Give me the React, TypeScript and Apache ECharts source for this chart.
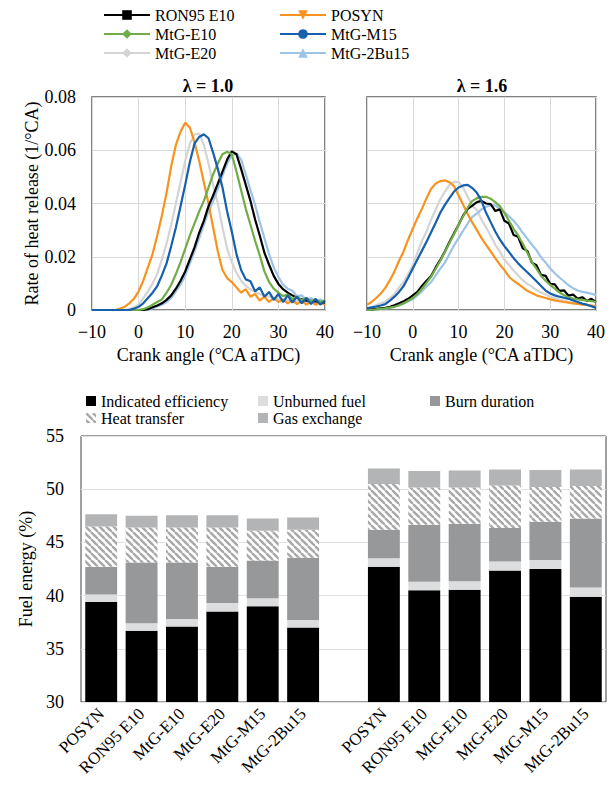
import React, { useEffect, useRef } from 'react';
import * as echarts from 'echarts';

// Crank angle grid (°CA aTDC)
const CA = Array.from({ length: 51 }, (_, i) => i - 10);

// Rate of heat release (1/°CA), lambda = 1.0
const RON95_L10 = [0,0,0,0,0,0,0,0,0,0, 0,0,0.0003,0.001,0.0017,0.0025,0.0038,0.0055,0.008,0.011, 0.0145,0.019,0.0235,0.029,0.0335,0.039,0.043,0.0475,0.052,0.0565, 0.0596,0.0585,0.053,0.047,0.041,0.034,0.028,0.0215,0.017,0.0128, 0.0098,0.0078,0.0065,0.0055,0.0045,0.004,0.0035,0.0034,0.0032,0.003, 0.0028];
const POSYN_L10 = [0,0,0,0,0,0,0.0005,0.0012,0.0025,0.0042, 0.007,0.011,0.016,0.021,0.028,0.0355,0.044,0.054,0.062,0.067, 0.0703,0.0685,0.063,0.056,0.048,0.04,0.031,0.022,0.015,0.012, 0.0105,0.0085,0.0065,0.0078,0.005,0.006,0.0035,0.005,0.003,0.0045, 0.003,0.004,0.0025,0.0038,0.0022,0.0035,0.002,0.0032,0.002,0.003, 0.002];
const E10_L10 = [0,0,0,0,0,0,0,0,0,0, 0,0.0003,0.001,0.002,0.003,0.004,0.0065,0.0095,0.0135,0.018, 0.023,0.028,0.0325,0.037,0.041,0.046,0.051,0.055,0.0585,0.0594, 0.0585,0.052,0.045,0.038,0.032,0.026,0.0205,0.0145,0.0105,0.008, 0.0065,0.0052,0.0058,0.0042,0.005,0.0036,0.0045,0.0033,0.004,0.003, 0.0035];
const M15_L10 = [0,0,0,0,0,0,0,0,0,0.0005, 0.0012,0.0025,0.0045,0.0065,0.009,0.013,0.0175,0.024,0.031,0.039, 0.047,0.0556,0.0625,0.065,0.066,0.0645,0.059,0.053,0.046,0.037, 0.0294,0.021,0.015,0.0115,0.0108,0.007,0.0085,0.005,0.0068,0.0038, 0.006,0.003,0.0055,0.0028,0.005,0.0025,0.0045,0.0022,0.0042,0.002, 0.0035];
const E20_L10 = [0,0,0,0,0,0,0,0,0.0003,0.001, 0.002,0.0045,0.007,0.01,0.0135,0.019,0.025,0.032,0.04,0.048, 0.056,0.0625,0.0658,0.0663,0.062,0.055,0.047,0.04,0.031,0.023, 0.018,0.014,0.011,0.009,0.0078,0.0068,0.006,0.0055,0.005,0.0046, 0.0042,0.004,0.0037,0.0035,0.0033,0.0031,0.003,0.0029,0.0028,0.0027, 0.0026];
const BU15_L10 = [0,0,0,0,0,0,0,0,0,0, 0,0,0.0002,0.0007,0.0013,0.002,0.003,0.0045,0.007,0.0095, 0.013,0.0175,0.022,0.027,0.032,0.037,0.041,0.0455,0.0505,0.055, 0.058,0.0588,0.0565,0.051,0.045,0.0395,0.033,0.027,0.021,0.016, 0.0125,0.0095,0.008,0.0072,0.0052,0.0055,0.0038,0.0045,0.003,0.004, 0.003];

// Rate of heat release (1/°CA), lambda = 1.6
const RON95_L16 = [0,0.0002,0.0004,0.0006,0.0008,0.0012,0.0018,0.0025,0.0033,0.0042, 0.0055,0.0068,0.009,0.011,0.0128,0.016,0.0188,0.022,0.0255,0.0288, 0.032,0.0355,0.038,0.0392,0.0405,0.041,0.04,0.0398,0.0372,0.0378, 0.0335,0.0325,0.0282,0.0275,0.0232,0.0222,0.0178,0.0168,0.0132,0.0128, 0.0098,0.0096,0.0072,0.0074,0.0054,0.0058,0.0042,0.0048,0.0034,0.0042, 0.003];
const POSYN_L16 = [0.002,0.003,0.0045,0.0062,0.0083,0.0112,0.0145,0.0185,0.022,0.0265, 0.0305,0.0345,0.038,0.042,0.0455,0.0475,0.0484,0.0487,0.048,0.0465, 0.043,0.0395,0.036,0.0328,0.03,0.027,0.0245,0.022,0.0195,0.017, 0.015,0.0125,0.011,0.0098,0.0085,0.0072,0.0064,0.0055,0.005,0.0045, 0.004,0.0036,0.0033,0.003,0.0028,0.0025,0.0023,0.0021,0.0019,0.0017, 0.0015];
const E10_L16 = [0,0.0001,0.0002,0.0004,0.0006,0.0009,0.0012,0.0018,0.0025,0.0035, 0.0045,0.006,0.008,0.0102,0.0125,0.0155,0.0185,0.0218,0.0252,0.0285, 0.032,0.0352,0.0385,0.041,0.042,0.0425,0.0425,0.0418,0.0405,0.039, 0.0365,0.0335,0.0305,0.028,0.025,0.0215,0.018,0.0155,0.0128,0.011, 0.0094,0.008,0.0066,0.0056,0.0047,0.0043,0.004,0.0038,0.0035,0.0033, 0.0031];
const M15_L16 = [0.0006,0.001,0.0013,0.0017,0.0022,0.0035,0.005,0.0068,0.009,0.0122, 0.0156,0.019,0.0223,0.0256,0.0292,0.0328,0.0365,0.0395,0.042,0.0445, 0.046,0.0468,0.047,0.0458,0.044,0.041,0.0365,0.033,0.0295,0.0265, 0.024,0.0218,0.0195,0.0175,0.0158,0.0142,0.0125,0.0108,0.009,0.0073, 0.0062,0.0055,0.005,0.0046,0.0042,0.0036,0.003,0.0024,0.002,0.0014, 0.0008];
const E20_L16 = [0.0006,0.001,0.0018,0.0025,0.0032,0.0045,0.006,0.0085,0.0105,0.0135, 0.0168,0.0215,0.026,0.0295,0.034,0.0378,0.0415,0.0445,0.047,0.0481, 0.048,0.046,0.0425,0.039,0.0375,0.034,0.031,0.028,0.0245,0.022, 0.019,0.017,0.0148,0.013,0.0112,0.0098,0.0088,0.0075,0.0066,0.0058, 0.005,0.0045,0.0039,0.0035,0.003,0.0026,0.0023,0.002,0.0018,0.0016, 0.0014];
const BU15_L16 = [0,0,0.0002,0.0004,0.0006,0.0009,0.0012,0.0018,0.0024,0.0032, 0.004,0.0055,0.007,0.0088,0.0105,0.013,0.0155,0.0178,0.021,0.0243, 0.027,0.0298,0.0325,0.035,0.0363,0.0378,0.0388,0.0393,0.0393,0.038, 0.0368,0.0352,0.0335,0.0315,0.029,0.0268,0.0245,0.0225,0.0198,0.0178, 0.0156,0.0138,0.0122,0.0108,0.0093,0.0082,0.0073,0.0068,0.0065,0.0061, 0.0056];

// Fuel energy breakdown (%)
const BAR_FUELS = ['POSYN', 'RON95 E10', 'MtG-E10', 'MtG-E20', 'MtG-M15', 'MtG-2Bu15'];
const IND_EFF_L10 = [39.4, 36.7, 37.1, 38.5, 39.0, 37.0];
const UNBURNED_L10 = [0.7, 0.7, 0.7, 0.8, 0.75, 0.7];
const BURN_L10 = [2.6, 5.7, 5.3, 3.4, 3.55, 5.85];
const HEAT_L10 = [3.8, 3.3, 3.3, 3.7, 2.8, 2.65];
const GAS_L10 = [1.15, 1.1, 1.15, 1.15, 1.15, 1.15];
const IND_EFF_L16 = [42.7, 40.5, 40.55, 42.35, 42.5, 39.9];
const UNBURNED_L16 = [0.8, 0.8, 0.8, 0.85, 0.85, 0.85];
const BURN_L16 = [2.7, 5.35, 5.4, 3.15, 3.6, 6.5];
const HEAT_L16 = [4.3, 3.5, 3.4, 4.0, 3.25, 3.05];
const GAS_L16 = [1.45, 1.55, 1.6, 1.5, 1.6, 1.55];

const FONT = 'Liberation Serif';

const LINE_SERIES = [
  { name: 'MtG-E20', color: '#D4D4D4', symbol: 'diamond', rotate: 0, l10: E20_L10, l16: E20_L16 },
  { name: 'MtG-2Bu15', color: '#9DC3E6', symbol: 'triangle', rotate: 0, l10: BU15_L10, l16: BU15_L16 },
  { name: 'POSYN', color: '#F7931E', symbol: 'triangle', rotate: 180, l10: POSYN_L10, l16: POSYN_L16 },
  { name: 'RON95 E10', color: '#000000', symbol: 'rect', rotate: 0, l10: RON95_L10, l16: RON95_L16 },
  { name: 'MtG-E10', color: '#70AD47', symbol: 'diamond', rotate: 0, l10: E10_L10, l16: E10_L16 },
  { name: 'MtG-M15', color: '#1760AB', symbol: 'circle', rotate: 0, l10: M15_L10, l16: M15_L16 },
];

export default function App() {
  const ref = useRef<HTMLDivElement>(null);
  useEffect(() => {
    document.body.style.margin = '0';
    if (!ref.current) return;
    const chart = echarts.init(ref.current, null, { renderer: 'svg' });

    const c = document.createElement('canvas');
    c.width = 7; c.height = 7;
    const ctx = c.getContext('2d')!;
    ctx.fillStyle = '#ffffff';
    ctx.fillRect(0, 0, 7, 7);
    ctx.strokeStyle = '#a8a8a8';
    ctx.lineWidth = 2.4;
    for (const o of [-7, 0, 7]) {
      ctx.beginPath(); ctx.moveTo(o, 0); ctx.lineTo(o + 7, 7); ctx.stroke();
    }
    const hatch = { image: c, repeat: 'repeat' };

    const cats = [...BAR_FUELS, '', ...BAR_FUELS];
    const join = (a: number[], b: number[]) => [...a, '-', ...b];

    const minus = (v: number) => (v < 0 ? '\u2212' + Math.abs(v) : String(v));
    const lineX = (gi: number) => ({
      type: 'value', gridIndex: gi, min: -10, max: 40, interval: 10,
      axisLine: { show: false }, axisTick: { show: false },
      splitLine: { show: true, lineStyle: { color: '#d9d9d9', width: 1 } },
      axisLabel: { fontSize: 18, fontFamily: FONT, color: '#000', margin: 13, formatter: minus },
      name: 'Crank angle (°CA aTDC)', nameLocation: 'middle', nameGap: 36,
      nameTextStyle: { fontSize: 18, fontFamily: FONT, color: '#000' },
    });
    const lineY = (gi: number, labels: boolean) => ({
      type: 'value', gridIndex: gi, min: 0, max: 0.08, interval: 0.02,
      axisLine: { show: false }, axisTick: { show: false },
      splitLine: { show: true, lineStyle: { color: '#d9d9d9', width: 1 } },
      axisLabel: { show: labels, fontSize: 18, fontFamily: FONT, color: '#000', margin: 16,
        formatter: (v: number) => (v === 0 ? '0' : v.toFixed(2)) },
      name: labels ? 'Rate of heat release (1/°CA)' : '', nameLocation: 'middle', nameGap: 48,
      nameTextStyle: { fontSize: 18, fontFamily: FONT, color: '#000' },
    });

    const lineSeries: any[] = [];
    LINE_SERIES.forEach((s) => {
      [s.l10, s.l16].forEach((vals, gi) => {
        lineSeries.push({
          type: 'line', name: s.name, xAxisIndex: gi, yAxisIndex: gi,
          data: CA.map((x, i) => [x, vals[i]]),
          showSymbol: false, symbol: s.symbol, symbolRotate: s.rotate, symbolSize: 9,
          lineStyle: { width: 2.2, color: s.color }, itemStyle: { color: s.color },
          silent: true,
        });
      });
    });

    const barDefs = [
      { name: 'Indicated efficiency', color: '#000000', a: IND_EFF_L10, b: IND_EFF_L16 },
      { name: 'Unburned fuel', color: '#DCDDDF', a: UNBURNED_L10, b: UNBURNED_L16 },
      { name: 'Burn duration', color: '#97989A', a: BURN_L10, b: BURN_L16 },
      { name: 'Heat transfer', color: hatch, a: HEAT_L10, b: HEAT_L16 },
      { name: 'Gas exchange', color: '#B2B4B6', a: GAS_L10, b: GAS_L16 },
    ];
    const barSeries = barDefs.map((d) => ({
      type: 'bar', name: d.name, stack: 'fe', xAxisIndex: 2, yAxisIndex: 2,
      data: join(d.a, d.b), barCategoryGap: '21%',
      itemStyle: { color: d.color }, silent: true,
    }));

    const legendText = { fontSize: 16, fontFamily: FONT, color: '#000', lineHeight: 18 };
    const barLegendText = { fontSize: 16, fontFamily: FONT, color: '#000', lineHeight: 16 };

    chart.setOption({
      animation: false,
      backgroundColor: '#ffffff',
      textStyle: { fontFamily: FONT },
      graphic: [
        { type: 'text', x: 208, y: 86, style: { text: 'λ = 1.0', font: 'bold 18px Liberation Serif', fill: '#000', align: 'center', verticalAlign: 'middle' } },
        { type: 'text', x: 482, y: 86, style: { text: 'λ = 1.6', font: 'bold 18px Liberation Serif', fill: '#000', align: 'center', verticalAlign: 'middle' } },
      ],
      legend: [
        { data: ['RON95 E10', 'MtG-E10', 'MtG-E20'], orient: 'vertical', left: 98, top: 1, itemWidth: 46, itemHeight: 12, itemGap: 1, textStyle: legendText, selectedMode: false },
        { data: ['POSYN', 'MtG-M15', 'MtG-2Bu15'], orient: 'vertical', left: 274, top: 1, itemWidth: 46, itemHeight: 12, itemGap: 1, textStyle: legendText, selectedMode: false },
        { data: ['Indicated efficiency', 'Heat transfer'], orient: 'vertical', left: 81, top: 388, itemWidth: 10, itemHeight: 10, itemGap: 1, icon: 'rect', textStyle: barLegendText, selectedMode: false },
        { data: ['Unburned fuel', 'Gas exchange'], orient: 'vertical', left: 253, top: 388, itemWidth: 10, itemHeight: 10, itemGap: 1, icon: 'rect', textStyle: barLegendText, selectedMode: false },
        { data: ['Burn duration'], orient: 'vertical', left: 425, top: 388, itemWidth: 10, itemHeight: 10, itemGap: 1, icon: 'rect', textStyle: barLegendText, selectedMode: false },
      ],
      grid: [
        { left: 92, top: 97, width: 233, height: 213, show: true, borderColor: '#595959', borderWidth: 1.5, backgroundColor: 'transparent' },
        { left: 367, top: 97, width: 229, height: 213, show: true, borderColor: '#595959', borderWidth: 1.5, backgroundColor: 'transparent' },
        { left: 81, top: 436, width: 525, height: 266, show: true, borderColor: '#404040', borderWidth: 1, backgroundColor: 'transparent' },
      ],
      xAxis: [
        lineX(0),
        lineX(1),
        {
          type: 'category', gridIndex: 2, data: cats,
          axisLine: { show: false }, axisTick: { show: false },
          axisLabel: { interval: 0, rotate: 45, fontSize: 17, fontFamily: FONT, color: '#000', margin: 9 },
        },
      ],
      yAxis: [
        lineY(0, true),
        lineY(1, false),
        {
          type: 'value', gridIndex: 2, min: 30, max: 55, interval: 5,
          axisLine: { show: false }, axisTick: { show: false },
          splitLine: { show: true, lineStyle: { color: '#e0e0e0', width: 1 } },
          axisLabel: { fontSize: 18, fontFamily: FONT, color: '#000', margin: 17 },
          name: 'Fuel energy (%)', nameLocation: 'middle', nameGap: 44,
          nameTextStyle: { fontSize: 18, fontFamily: FONT, color: '#000' },
        },
      ],
      series: [...lineSeries, ...barSeries],
    });
    return () => chart.dispose();
  }, []);
  return <div ref={ref} style={{ width: 610, height: 789 }} />;
}
